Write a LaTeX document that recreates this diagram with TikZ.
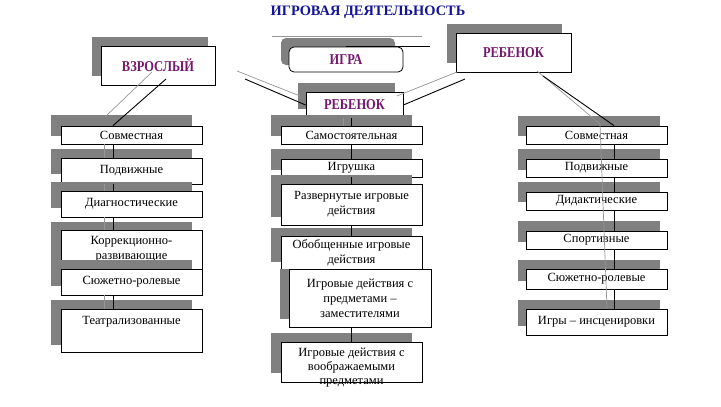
\documentclass[tikz,border=0pt]{standalone}
\usepackage{fontspec}
\setmainfont{Liberation Serif}
\newfontfamily\labfont{Liberation Serif}[FakeStretch=0.83]
\definecolor{shadowc}{RGB}{128,128,128}
\definecolor{glinec}{RGB}{150,150,150}
\definecolor{labc}{RGB}{118,22,110}
\definecolor{titlec}{RGB}{20,20,150}
\tikzset{
  box/.style={draw=black,fill=white,line width=0.8pt,inner sep=1pt,align=center,
    font=\fontsize{12.5}{15}\selectfont},
  labbox/.style={draw=black,fill=white,line width=0.8pt,inner sep=1pt,
    font=\labfont\bfseries\fontsize{15}{17}\selectfont,text=labc},
  gline/.style={draw=glinec,line width=0.7pt},
  bline/.style={draw=black,line width=0.9pt},
  plaintext/.style={inner sep=0pt,align=center,font=\fontsize{12.5}{14}\selectfont}
}
\newcommand\myshadow[4]{\fill[shadowc] (#1,#2) rectangle (#3,#4);}
\newcommand\mybox[6]{\node[box,minimum width={#4-#2},minimum height={#5-#3}] (#1) at ({(#2+#4)/2},{(#3+#5)/2}) {#6};}
\begin{document}
\begin{tikzpicture}[x=1pt,y=-1pt]
\useasboundingbox[fill=white] (0,0) rectangle (721,407);
% title
\node[font=\bfseries\fontsize{14.4}{16}\selectfont,text=titlec] (title) at (368,12) {ИГРОВАЯ ДЕЯТЕЛЬНОСТЬ};
% top shadows
\myshadow{92}{37}{208}{76}
\fill[shadowc,rounded corners=5pt] (281,38) rectangle (395,65);
\myshadow{447}{24}{562}{63}
\myshadow{298}{83}{395}{109}
% line above game
\coordinate (gtl) at (272,36);
\coordinate (gtr) at (422,36);
\draw[gline] (gtl) -- (gtr);
% top boxes
\node[labbox,minimum width=114,minimum height=39] (adult) at (158,65.5) {ВЗРОСЛЫЙ};
\node[labbox,rounded corners=5pt,minimum width=114,minimum height=25] (game) at (346,59.5) {ИГРА};
\coordinate (gx) at (430,0);
\draw[bline] (game.north) -- (game.north -| gx);
\node[labbox,minimum width=115,minimum height=39] (childR) at (513.5,52.5) {РЕБЕНОК};
% coordinates for the free line ends
\coordinate (xl) at (113,0);
\coordinate (xlg) at (104,0);
\coordinate (xm) at (351,0);
\coordinate (xmg) at (343,0);
\coordinate (xr) at (614,0);
\coordinate (xrg) at (607,0);
\coordinate (ag1) at (152,72);
\coordinate (ab1) at (166,79);
\coordinate (cg1) at (237,71);
\coordinate (cb1) at (245,79);
\coordinate (cg2) at (300,96);
\coordinate (rg1) at (457,72);
\coordinate (rb1) at (465,79);
\coordinate (rg2) at (397,96);
\coordinate (sg1) at (537,71);
\coordinate (sb1) at (543,76);
\coordinate (sg2) at (600,124);
\coordinate (lg2) at (105,117);
% centre child
\node[labbox,minimum width=97,minimum height=26] (childC) at (354.5,105) {РЕБЕНОК};
\draw[gline] (cg1) -- (cg2);
\draw[bline] (cb1) -- (childC.west);
\draw[gline] (rg1) -- (rg2);
\draw[bline] (rb1) -- (childC.east);
% left column
\myshadow{51}{115}{192}{136} \mybox{L1}{61}{126}{202}{144}{Совместная}
\myshadow{51}{149}{192}{174} \mybox{L2}{61}{158}{202}{184}{Подвижные}
\myshadow{51}{182}{192}{208} \mybox{L3}{61}{191}{202}{217}{Диагностические}
\myshadow{51}{222}{192}{262} \mybox{L4}{61}{230}{202}{269}{Коррекционно-\\развивающие}
\myshadow{51}{260}{192}{286} \mybox{L5}{61}{269}{202}{295}{Сюжетно-ролевые}
\myshadow{51}{300}{192}{345} \mybox{L6}{61}{309}{202}{352}{Театрализованные\\\strut}
% middle column
\myshadow{271}{115}{412}{136} \mybox{M1}{281}{126}{422}{144}{Самостоятельная}
\myshadow{271}{149}{412}{170} \mybox{M2}{281}{159}{422}{177}{Игрушка}
\myshadow{271}{175}{412}{217} \mybox{M3}{281}{184}{422}{225}{Развернутые игровые\\действия}
\myshadow{271}{228}{412}{262} \mybox{M4}{281}{236}{422}{269}{Обобщенные игровые\\действия}
\myshadow{280}{269}{422}{319} \mybox{M5}{289}{269}{431}{327}{Игровые действия с\\предметами –\\заместителями}
\myshadow{271}{333}{412}{373} \mybox{M6}{281}{342}{422}{382}{}
\node[plaintext] (M6t) at (351.5,368) {Игровые действия с\\воображаемыми\\предметами};
% right column
\myshadow{518}{116}{660}{136} \mybox{R1}{526}{126}{667}{144}{Совместная}
\myshadow{518}{149}{660}{170} \mybox{R2}{526}{159}{667}{177}{Подвижные}
\myshadow{518}{182}{660}{202} \mybox{R3}{526}{192}{667}{210}{Дидактические}
\myshadow{518}{221}{660}{242} \mybox{R4}{526}{231}{667}{249}{Спортивные}
\myshadow{518}{260}{660}{281} \mybox{R5}{526}{269}{667}{289}{Сюжетно-ролевые}
\myshadow{518}{300}{660}{326} \mybox{R6}{526}{309}{667}{335}{Игры – инсценировки}
% diagonal connectors to columns
\draw[gline] (ag1) -- (lg2);
\draw[bline] (ab1) -- (L1.north -| xl);
\draw[gline] (sg1) -- (sg2);
\draw[bline] (sb1) -- (R1.north -| xr);
% vertical connectors
\foreach \a/\b in {L1/L2,L2/L3,L3/L4,L5/L6}{
  \draw[gline] (\a.south -| xlg) -- (\b.north -| xlg);
  \draw[bline] (\a.south -| xl) -- (\b.north -| xl);
}
\draw[gline] (childC.south -| xmg) -- (M1.north -| xmg);
\draw[bline] (childC.south -| xm) -- (M1.north -| xm);
\foreach \a/\b in {M1/M2,M2/M3,M3/M4,M5/M6}{
  \draw[bline] (\a.south -| xm) -- (\b.north -| xm);
}
\foreach \a/\b in {R1/R2,R2/R3,R3/R4,R4/R5,R5/R6}{
  \draw[bline] (\a.south -| xr) -- (\b.north -| xr);
}
\draw[gline] (sg2) -- (R6.north -| xrg);
\end{tikzpicture}
\end{document}
